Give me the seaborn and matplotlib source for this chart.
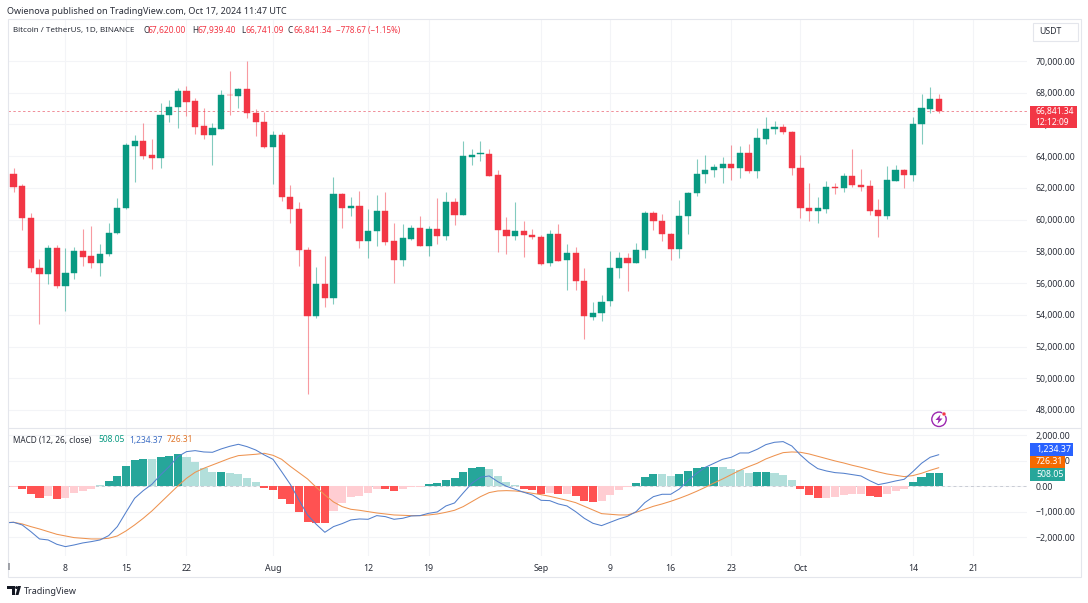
import numpy as np
import pandas as pd
import seaborn as sns
import matplotlib.pyplot as plt
from matplotlib.patches import Rectangle, Circle, Polygon
from matplotlib.transforms import Bbox

# candles, one per day from 1 Jul 2024 (day 0) to 17 Oct 2024 (day 108)
opens = [62770, 62860, 62100, 60130, 56980, 56560, 58200, 55800, 56665, 58030, 57690, 57295, 57820, 59165, 60740,
         64665, 64980, 64055, 63910, 66600, 67080, 68110, 67480, 65885, 65315, 65740, 67860, 67795, 68215, 66745,
         66155, 64560, 65315, 61430, 60655, 58095, 53935, 55970, 55050, 61640, 60760, 60865, 58660, 59290, 60530,
         58640, 57485, 58785, 59460, 58365, 59395, 58955, 61115, 60300, 63975, 64120, 64160, 62795, 59355, 58975,
         59310, 59060, 58910, 57250, 59080, 57440, 57925, 56120, 53870, 54105, 54840, 56980, 57590, 57295, 58070,
         60445, 59940, 59100, 58155, 60255, 61685, 62900, 63155, 63280, 63530, 63280, 64185, 63070, 65105, 65735,
         65820, 65550, 63260, 60740, 60570, 60700, 62060, 62000, 62755, 62190, 62105, 60590, 60255, 62460, 63135,
         62795, 66030, 67000, 67620]
highs = [63860, 63240, 62230, 60445, 57505, 58430, 58390, 58200, 58260, 59440, 59605, 58470, 59795, 61370, 64855,
         65340, 66075, 65085, 67335, 67565, 68280, 68425, 67690, 67060, 66115, 68150, 69370, 68280, 70020, 66955,
         66810, 65610, 65550, 62165, 61095, 58260, 57000, 57715, 62690, 61705, 61430, 61810, 60655, 61535, 61745,
         59775, 59730, 59645, 60235, 59605, 61350, 61770, 61350, 64940, 64435, 64940, 64435, 63155, 60170, 61115,
         59900, 59415, 59015, 59330, 59730, 58450, 58280, 56940, 54795, 55260, 58030, 57965, 57925, 58515, 60550,
         60550, 60340, 59145, 61245, 61745, 63805, 64055, 63510, 63975, 64685, 64625, 64770, 65760, 66450, 66220,
         66030, 65590, 64080, 62335, 61455, 62420, 62295, 62925, 64435, 63175, 62505, 61305, 63385, 63450, 63215,
         66450, 67920, 68385, 67939]
lows = [62500, 61770, 59350, 56730, 53450, 55970, 55720, 54210, 56245, 57105, 56980, 56475, 57735, 59100, 60655,
        62355, 63845, 63195, 63260, 66180, 65760, 66535, 65400, 65085, 63425, 65695, 66600, 67060, 66430, 65275,
        64500, 62270, 61200, 59795, 57105, 48980, 53800, 54500, 54710, 59500, 60235, 58240, 57610, 58365, 58385,
        56035, 57065, 58725, 58345, 57735, 58490, 58745, 59670, 60275, 63470, 63700, 62755, 57965, 57820, 58700,
        57675, 58765, 57170, 57105, 57380, 55575, 55575, 52505, 53685, 53580, 54525, 56350, 55490, 57275, 57590,
        59375, 58660, 57440, 57570, 59120, 61515, 62335, 62715, 62335, 62505, 62630, 62925, 62630, 64770, 65380,
        65400, 62840, 60110, 59940, 59795, 60425, 61640, 61745, 62085, 61830, 60275, 58890, 60045, 62440, 62000,
        62420, 64750, 66725, 66741]
closes = [62900, 62080, 60130, 56980, 56560, 58200, 55800, 56665, 58030, 57670, 57295, 57840, 59165, 60740, 64690,
          64980, 64035, 63910, 66600, 67080, 68110, 67440, 65865, 65315, 65760, 67860, 67835, 68215, 66700, 66135,
          64560, 65315, 61430, 60655, 58095, 53935, 55970, 55050, 61640, 60760, 60845, 58660, 59310, 60530, 58620,
          57485, 58830, 59460, 58365, 59395, 58955, 61115, 60300, 63995, 64100, 64185, 62775, 59355, 58955, 59310,
          59060, 58890, 57230, 59080, 57420, 57925, 56120, 53895, 54105, 54815, 56980, 57590, 57295, 58070, 60445,
          59940, 59080, 58155, 60255, 61705, 62900, 63155, 63300, 63530, 63280, 64185, 63070, 65130, 65735, 65820,
          65525, 63260, 60740, 60570, 60720, 62040, 62020, 62755, 62165, 62060, 60570, 60255, 62480, 63135, 62795,
          66030, 67040, 67585, 66841.34]

# MACD pane
macd_line = [-1432, -1406, -1510, -1771, -2057, -2096, -2265, -2357, -2292, -2213, -2161, -2096, -1927, -1575, -1016,
             -469, -169, 78, 443, 768, 1159, 1354, 1393, 1341, 1328, 1458, 1562, 1641, 1549, 1419, 1224, 1055, 573,
             78, -534, -1120, -1484, -1797, -1575, -1458, -1315, -1276, -1289, -1146, -1185, -1289, -1250, -1159,
             -1146, -1055, -1003, -768, -651, -260, 117, 352, 404, 182, 0, -117, -234, -339, -547, -560, -690, -768,
             -990, -1250, -1445, -1536, -1406, -1276, -1172, -990, -638, -404, -312, -312, -104, 221, 508, 742, 898,
             1055, 1133, 1302, 1302, 1445, 1628, 1719, 1745, 1575, 1224, 924, 690, 599, 534, 508, 456, 404, 221, 65,
             130, 208, 273, 573, 898, 1133, 1234.37]
signal_line = [-1419, -1406, -1471, -1575, -1667, -1771, -1875, -1940, -2005, -2031, -2057, -2057, -2031, -1940, -1745,
               -1510, -1250, -963, -638, -312, 13, 312, 547, 703, 833, 963, 1094, 1198, 1224, 1250, 1289, 1211, 1055,
               781, 534, 286, -39, -339, -612, -794, -898, -937, -990, -1042, -1081, -1120, -1133, -1146, -1146, -1120,
               -1081, -1016, -937, -794, -599, -404, -247, -182, -169, -182, -221, -273, -326, -391, -469, -547, -638,
               -781, -924, -1068, -1094, -1120, -1120, -1016, -898, -781, -690, -586, -469, -339, -195, -39, 130, 286,
               456, 625, 768, 898, 1068, 1198, 1315, 1341, 1328, 1263, 1172, 1081, 990, 911, 820, 742, 651, 560, 482,
               430, 378, 417, 508, 625, 726.31]
histogram = [-5, -15, -90, -312, -443, -390, -482, -443, -273, -182, -104, 39, 195, 404, 794, 1016, 1068, 1055, 1159,
             1198, 1263, 1159, 937, 716, 560, 560, 521, 482, 339, 169, -65, -156, -482, -703, -990, -1380, -1432,
             -1445, -963, -651, -404, -365, -273, -104, -117, -182, -117, -13, -13, 78, 117, 260, 325, 560, 716, 768,
             690, 404, 169, 39, -91, -143, -300, -273, -300, -300, -378, -560, -612, -560, -352, -156, -13, 117, 365,
             469, 469, 404, 469, 586, 716, 768, 768, 755, 677, 651, 534, 560, 560, 521, 443, 234, -104, -339, -456,
             -443, -404, -339, -312, -286, -378, -417, -300, -182, -91, 156, 352, 508, 508.05]
hist_strong = [0, 0, 1, 1, 1, 0, 1, 0, 0, 0, 0, 0, 1, 1, 1, 1, 1, 0, 1, 1, 1, 0, 0, 0, 0, 1, 0, 0, 0, 0, 1, 1, 1, 1, 1,
               1, 1, 1, 0, 0, 0, 0, 0, 0, 1, 1, 0, 0, 0, 1, 1, 1, 1, 1, 1, 1, 0, 0, 0, 0, 1, 1, 1, 0, 1, 0, 1, 1, 1, 0,
               0, 0, 0, 1, 1, 1, 0, 0, 1, 1, 1, 1, 1, 0, 0, 0, 0, 1, 1, 0, 0, 0, 1, 1, 1, 0, 0, 0, 0, 0, 1, 1, 0, 0, 0,
               1, 1, 1, 1]

price_ticks = list(range(48000, 72000, 2000))
macd_ticks = [-2000, -1000, 0, 1000, 2000]
date_ticks = [7, 14, 21, 31, 42, 49, 62, 70, 77, 84, 92, 105, 112]
date_labels = ['8', '15', '22', 'Aug', '12', '19', 'Sep', '9', '16', '23', 'Oct', '14', '21']

UP = '#089981'
DOWN = '#F23645'
GRID = '#F3F4F7'
FRAME = '#E4E6EC'
TEXT = '#2A2E39'
W, H = 1088, 603

sns.set_theme(style='white')
plt.rcParams['font.family'] = ['Noto Sans', 'DejaVu Sans']
plt.rcParams['font.size'] = 6.3


def axes_px(fig, left, top, right, bottom):
    return fig.add_axes([left / W, 1 - bottom / H, (right - left) / W, (bottom - top) / H])


def label(fig, x, y, s, color=TEXT, size=6.3, **kw):
    kw.setdefault('ha', 'left')
    kw.setdefault('va', 'center')
    return fig.text(x / W, 1 - y / H, s, color=color, fontsize=size, **kw)


def style_pane(ax, yticks, ylabels):
    ax.set_yticks(yticks, ylabels)
    ax.yaxis.tick_right()
    ax.set_xticks(date_ticks)
    ax.grid(True, color=GRID, linewidth=0.8)
    ax.set_axisbelow(True)
    ax.tick_params(axis='y', length=0, pad=6.2, labelsize=6.3, labelcolor=TEXT)
    ax.tick_params(axis='x', length=0)
    ax.set_xlabel('')
    ax.set_ylabel('')
    ax.set_xlim(0.3, 118.2)
    sns.despine(ax=ax, left=True, right=True, top=True, bottom=True)


fig = plt.figure(figsize=(W / 100, H / 100), dpi=100, facecolor='white')

# price pane
ax = axes_px(fig, 7.5, 19, 1027, 428)
ohlc = pd.DataFrame({'open': opens, 'high': highs, 'low': lows, 'close': closes})
ohlc['colour'] = np.where(ohlc['close'] >= ohlc['open'], UP, DOWN)
ax.vlines(ohlc.index, ohlc['low'], ohlc['high'], colors=ohlc['colour'], linewidth=0.8, alpha=0.5, zorder=2)
ax.bar(ohlc.index, ohlc['close'] - ohlc['open'], bottom=ohlc['open'], width=0.72, color=ohlc['colour'],
       linewidth=0.3, edgecolor=ohlc['colour'], zorder=3)
ax.axhline(closes[-1], color='#F08D98', linewidth=0.7, linestyle=(0, (2.5, 2.5)), zorder=1)
style_pane(ax, price_ticks, [f'{p:,.2f}' for p in price_ticks])
ax.set_ylim(46864, 72648)
ax.tick_params(axis='x', labelbottom=False)

# MACD pane
ax2 = axes_px(fig, 7.5, 428, 1027, 556)
macd = pd.DataFrame({'day': range(len(histogram)), 'hist': histogram, 'macd': macd_line, 'signal': signal_line})
macd['shade'] = [('up' if v >= 0 else 'down') + ('_strong' if s else '_weak') for v, s in zip(histogram, hist_strong)]
shades = {'up_strong': '#26A69A', 'up_weak': '#B2DFDB', 'down_strong': '#FF5252', 'down_weak': '#FFCDD2'}
sns.barplot(data=macd, x='day', y='hist', hue='shade', palette=shades, native_scale=True, dodge=False,
            width=0.93, saturation=1, linewidth=0, legend=False, ax=ax2, zorder=2)
sns.lineplot(data=macd, x='day', y='signal', color='#EE9350', linewidth=0.75, ax=ax2, zorder=3)
sns.lineplot(data=macd, x='day', y='macd', color='#5480CC', linewidth=0.75, ax=ax2, zorder=4)
ax2.axhline(0, color='#C9CCD4', linewidth=0.7, linestyle=(0, (3, 3)), zorder=1)
style_pane(ax2, macd_ticks, ['\u22122,000.00', '\u22121,000.00', '0.00', '1,000.00', '2,000.00'])
ax2.set_ylim(-2723, 2277)
ax2.set_xticklabels(date_labels)
ax2.tick_params(axis='x', pad=5.5, labelsize=6.3, labelcolor=TEXT)
for tick in ax2.get_xticklabels():
    if tick.get_text() in ('Aug', 'Sep', 'Oct'):
        tick.set_fontweight('bold')

# "Jul" sits half outside the left edge of the chart
jul = label(fig, 5.5, 567, 'Jul', ha='center')
jul.set_clip_box(Bbox([[7.5, 0], [60, H]]))
jul.set_clip_on(True)

# frame and pane separator
fig.add_artist(Rectangle((7.5 / W, 1 - 577 / H), 1073 / W, 558 / H, transform=fig.transFigure, fill=False,
                         edgecolor=FRAME, linewidth=0.8))
fig.add_artist(plt.Line2D([7.5 / W, 1080.5 / W], [1 - 428 / H, 1 - 428 / H], color=FRAME, linewidth=0.8))

# header
label(fig, 7, 11, 'Owienova published on TradingView.com, Oct 17, 2024 11:47 UTC', size=6.5)
label(fig, 13, 30.5, 'Bitcoin / TetherUS, 1D, BINANCE', size=5.75)
for x_key, x_val, key, val in [(143, 148, 'O', '67,620.00'), (192, 197, 'H', '67,939.40'),
                               (241, 245, 'L', '66,741.09'), (288, 293, 'C', '66,841.34')]:
    label(fig, x_key, 30.5, key, size=5.9)
    label(fig, x_val, 30.5, val, color=DOWN, size=6.1)
label(fig, 336, 30.5, '\u2212778.67 (\u22121.15%)', color=DOWN, size=5.8)

# MACD legend
label(fig, 13, 440, 'MACD (12, 26, close)', size=5.95)
label(fig, 98, 440, '508.05', color=UP, size=6.1)
label(fig, 129, 440, '1,234.37', color='#3F6FC4', size=6.1)
label(fig, 167, 440, '726.31', color='#E0752A', size=6.1)

# price scale boxes
fig.add_artist(Rectangle((1033 / W, 1 - 41 / H), 45 / W, 18 / H, transform=fig.transFigure, facecolor='white',
                         edgecolor=FRAME, linewidth=0.8))
label(fig, 1039, 31, 'USDT', size=6.3)
fig.add_artist(Rectangle((1030 / W, 1 - 128 / H), 47 / W, 22 / H, transform=fig.transFigure, facecolor=DOWN,
                         edgecolor='none'))
label(fig, 1035.5, 111.3, '66,841.34', color='white', size=6.1)
label(fig, 1035.5, 122.2, '12:12:09', color='white', size=6.1)
for top, right, colour, text in [(443, 1073, '#2962FF', '1,234.37'), (455.5, 1065, '#F56A00', '726.31'),
                                 (468, 1065, '#26A69A', '508.05')]:
    fig.add_artist(Rectangle((1030 / W, 1 - (top + 12.5) / H), (right - 1030) / W, 12.5 / H, transform=fig.transFigure,
                             facecolor=colour, edgecolor='none', zorder=5))
    label(fig, 1036, top + 6.2, text, color='white', size=6.3, zorder=6)

# lightning badge
fig.add_artist(Circle((939, H - 419.3), 7.2, transform=None, fill=False, edgecolor='#9C27B0', linewidth=1.0))
fig.add_artist(Polygon([(940.5, H - 414.5), (935.5, H - 420), (938.5, H - 420), (937.5, H - 424), (942.5, H - 418.5),
                        (939.5, H - 418.5)], transform=None, facecolor='#9C27B0', edgecolor='none'))
fig.add_artist(Circle((944, H - 414), 2.0, transform=None, facecolor=DOWN, edgecolor='white', linewidth=0.4))

# TradingView mark
logo = '#131722'
fig.add_artist(Polygon([(7, H - 586), (15, H - 586), (15, H - 595), (12, H - 595), (12, H - 589), (7, H - 589)],
                       transform=None, facecolor=logo, edgecolor='none'))
fig.add_artist(Circle((16.6, H - 587.6), 1.5, transform=None, facecolor=logo, edgecolor='none'))
fig.add_artist(Polygon([(15.5, H - 595), (18.5, H - 595), (21, H - 586), (18, H - 586)],
                       transform=None, facecolor=logo, edgecolor='none'))
label(fig, 24, 591, 'TradingView', size=6.5, color='#2A2E39')

fig.savefig('out.png', dpi=100)
